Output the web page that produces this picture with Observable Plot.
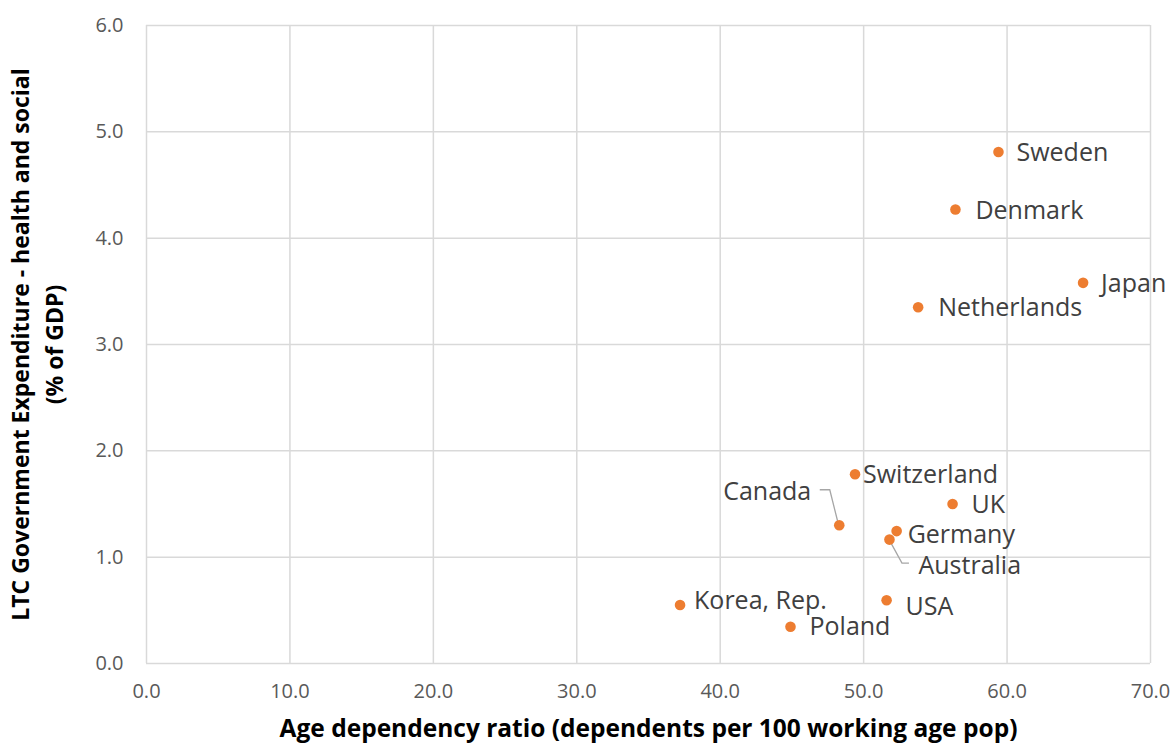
<!DOCTYPE html>
<html>
<head>
<meta charset="utf-8">
<script src="https://cdn.jsdelivr.net/npm/d3@7"></script>
<script src="https://cdn.jsdelivr.net/npm/@observablehq/plot@0.6"></script>
<style>
  html, body { margin: 0; padding: 0; background: #fff; }
  #chart svg { display: block; }
</style>
</head>
<body>
<div id="chart"></div>
<script>
// ---- data ----
const countries = ["Sweden", "Denmark", "Japan", "Netherlands", "Switzerland", "Canada", "UK", "Germany", "Australia", "Korea, Rep.", "USA", "Poland"];
const ageDependency = [59.4, 56.4, 65.3, 53.8, 49.4, 48.3, 56.2, 52.3, 51.8, 37.2, 51.6, 44.9];
const ltcExpenditure = [4.81, 4.27, 3.58, 3.35, 1.78, 1.30, 1.50, 1.245, 1.165, 0.55, 0.595, 0.345];
const xTicks = [0, 10, 20, 30, 40, 50, 60, 70];
const yTicks = [0, 1, 2, 3, 4, 5, 6];
const xTitle = "Age dependency ratio (dependents per 100 working age pop)";
const yTitleLines = ["LTC Government Expenditure - health and social", "(% of GDP)"];

// ---- label placement (pixel offsets, styling only) ----
const labelDx = {"Sweden": 18, "Denmark": 20, "Japan": 18, "Netherlands": 20, "Switzerland": 8, "Canada": -28, "UK": 19, "Germany": 11, "Australia": 29, "Korea, Rep.": 14, "USA": 19, "Poland": 19};
const labelDy = {"Sweden": 1, "Denmark": 2, "Japan": 1, "Netherlands": 1, "Switzerland": 1, "Canada": -33, "UK": 1, "Germany": 4, "Australia": 26, "Korea, Rep.": -4, "USA": 7, "Poland": 0};
const leaders = {"Canada": [[-19, -35], [-9, -35], [-1, -3]], "Australia": [[1, 2], [13, 24], [20, 24]]};

const data = countries.map((c, i) => ({country: c, x: ageDependency[i], y: ltcExpenditure[i]}));

const fmt = d3.format(".1f");
const gridColor = "#d9d9d9";
const font = "'Open Sans', 'Noto Sans', sans-serif";

const labelMarks = data.map(d => Plot.text([d], {
  x: "x", y: "y", text: "country",
  dx: labelDx[d.country], dy: labelDy[d.country],
  textAnchor: labelDx[d.country] < 0 ? "end" : "start",
  lineAnchor: "middle",
  fill: "#404040", fontSize: 25
}));

const plot = Plot.plot({
  width: 1172,
  height: 745,
  marginLeft: 146,
  marginRight: 22,
  marginTop: 25,
  marginBottom: 82,
  style: {fontFamily: font, background: "#fff", overflow: "visible"},
  x: {domain: [0, 70], ticks: xTicks, tickFormat: fmt, tickSize: 0, tickPadding: 20, label: null},
  y: {domain: [0, 6], ticks: yTicks, tickFormat: fmt, tickSize: 0, tickPadding: 23, label: null},
  marks: [
    Plot.gridX(xTicks, {stroke: gridColor, strokeOpacity: 1, strokeWidth: 1.5}),
    Plot.gridY(yTicks, {stroke: gridColor, strokeOpacity: 1, strokeWidth: 1.5}),
    Plot.axisX({ticks: xTicks, tickFormat: fmt, tickSize: 0, tickPadding: 20, fontSize: 20, color: "#595959", label: null}),
    Plot.axisY({ticks: yTicks, tickFormat: fmt, tickSize: 0, tickPadding: 23, fontSize: 20, color: "#595959", label: null}),
    Plot.text([xTitle], {frameAnchor: "bottom", dy: 66, fontSize: 24.5, fontWeight: "bold", fill: "#000", lineAnchor: "middle", textAnchor: "middle"}),
    Plot.text([yTitleLines[0]], {frameAnchor: "left", rotate: -90, dx: -125, fontSize: 23, fontWeight: "bold", fill: "#000", lineAnchor: "middle", textAnchor: "middle"}),
    Plot.text([yTitleLines[1]], {frameAnchor: "left", rotate: -90, dx: -91, fontSize: 23, fontWeight: "bold", fill: "#000", lineAnchor: "middle", textAnchor: "middle"}),
    Plot.dot(data, {x: "x", y: "y", r: 5.3, fill: "#ED7D31", stroke: "none"}),
    ...labelMarks
  ]
});

document.getElementById("chart").appendChild(plot);

// leader lines drawn via the plot's own scales
const sx = plot.scale("x"), sy = plot.scale("y");
const svg = d3.select(plot.tagName.toLowerCase() === "svg" ? plot : plot.querySelector("svg"));
const lineGen = d3.line();
const leaderG = svg.insert("g", "g[aria-label='dot']");
data.filter(d => leaders[d.country]).forEach(d => {
  const px = sx.apply(d.x), py = sy.apply(d.y);
  const pts = leaders[d.country].map(([ox, oy]) => [px + ox, py + oy]);
  leaderG.append("path").attr("d", lineGen(pts)).attr("fill", "none").attr("stroke", "#a6a6a6").attr("stroke-width", 1.3);
});
</script>
</body>
</html>
